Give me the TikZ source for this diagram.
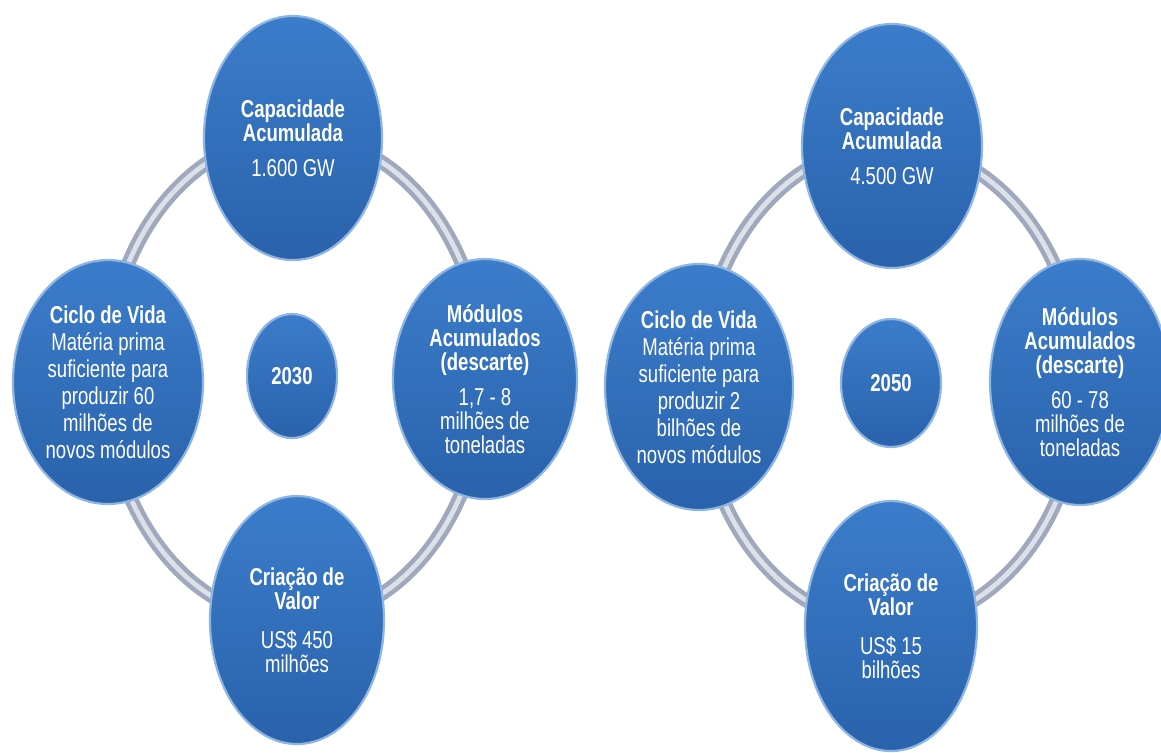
\documentclass[tikz,border=0pt]{standalone}
\usepackage{fontspec}
\setmainfont{Liberation Sans}
\newfontfamily\bubblefont[FakeStretch=0.76]{Liberation Sans}
\usepackage{xcolor}
\usepackage{tikz}
\usetikzlibrary{shapes.geometric,shadows}

\definecolor{bubbletop}{HTML}{3B7DCB}
\definecolor{bubblebot}{HTML}{2A62AB}
\definecolor{bubblerim}{HTML}{8FB5E3}
\definecolor{ringgray}{HTML}{A0A8BC}
\definecolor{ringlight}{HTML}{DCE0E9}

\begin{document}
\begin{tikzpicture}[
      x=0.5pt,y=-0.5pt,
      bubble/.style={
        ellipse,
        draw=bubblerim,
        line width=1.1pt,
        top color=bubbletop,
        bottom color=bubblebot,
        text=white,
        align=center,
        inner sep=0pt,
        font=\bubblefont\fontsize{12.2}{12}\selectfont
      },
      tall/.style={font=\bubblefont\fontsize{12.2}{13.5}\selectfont},
      ring/.style={draw=ringgray,line width=7pt},
      ringglow/.style={draw=ringlight,line width=2.4pt}
    ]
    \useasboundingbox (0,0) rectangle (1161,752);
    \clip (0,0) rectangle (1161,752);

    % 2030 cycle
    \coordinate (c1) at (295,378);
    \draw[ring] (c1) ellipse [x radius=189, y radius=243];
    \draw[ringglow] (c1) ellipse [x radius=189, y radius=243];

    \node[bubble,minimum width=89pt,minimum height=122pt] (cap1) at (293,138)
      {\textbf{Capacidade}\\\textbf{Acumulada}\\[5.5pt]1.600 GW};
    \node[bubble,tall,minimum width=95pt,minimum height=122pt] (vida1) at (108,382)
      {\textbf{Ciclo de Vida}\\Matéria prima\\suficiente para\\produzir 60\\milhões de\\novos módulos};
    \node[bubble,minimum width=92pt,minimum height=120pt] (mod1) at (485,379)
      {\textbf{Módulos}\\\textbf{Acumulados}\\\textbf{(descarte)}\\[5.5pt]1,7 - 8\\milhões de\\toneladas};
    \node[bubble,minimum width=87pt,minimum height=124pt] (val1) at (297,620)
      {\textbf{Criação de}\\\textbf{Valor}\\[7.5pt]US\$ 450\\milhões};
    \node[bubble,minimum width=45pt,minimum height=62pt] (yr1) at (292,376) {\textbf{2030}};

    % 2050 cycle
    \coordinate (c2) at (890,385);
    \draw[ring] (c2) ellipse [x radius=190, y radius=240];
    \draw[ringglow] (c2) ellipse [x radius=190, y radius=240];

    \node[bubble,minimum width=90pt,minimum height=122pt] (cap2) at (892,146)
      {\textbf{Capacidade}\\\textbf{Acumulada}\\[5.5pt]4.500 GW};
    \node[bubble,tall,minimum width=94pt,minimum height=123pt] (vida2) at (699,387)
      {\textbf{Ciclo de Vida}\\Matéria prima\\suficiente para\\produzir 2\\bilhões de\\novos módulos};
    \node[bubble,minimum width=90pt,minimum height=123pt] (mod2) at (1080,382)
      {\textbf{Módulos}\\\textbf{Acumulados}\\\textbf{(descarte)}\\[5.5pt]60 - 78\\milhões de\\toneladas};
    \node[bubble,minimum width=86pt,minimum height=125pt] (val2) at (891,626)
      {\textbf{Criação de}\\\textbf{Valor}\\[7.5pt]US\$ 15\\bilhões};
    \node[bubble,minimum width=50pt,minimum height=64pt] (yr2) at (891,383) {\textbf{2050}};
\end{tikzpicture}
\end{document}
